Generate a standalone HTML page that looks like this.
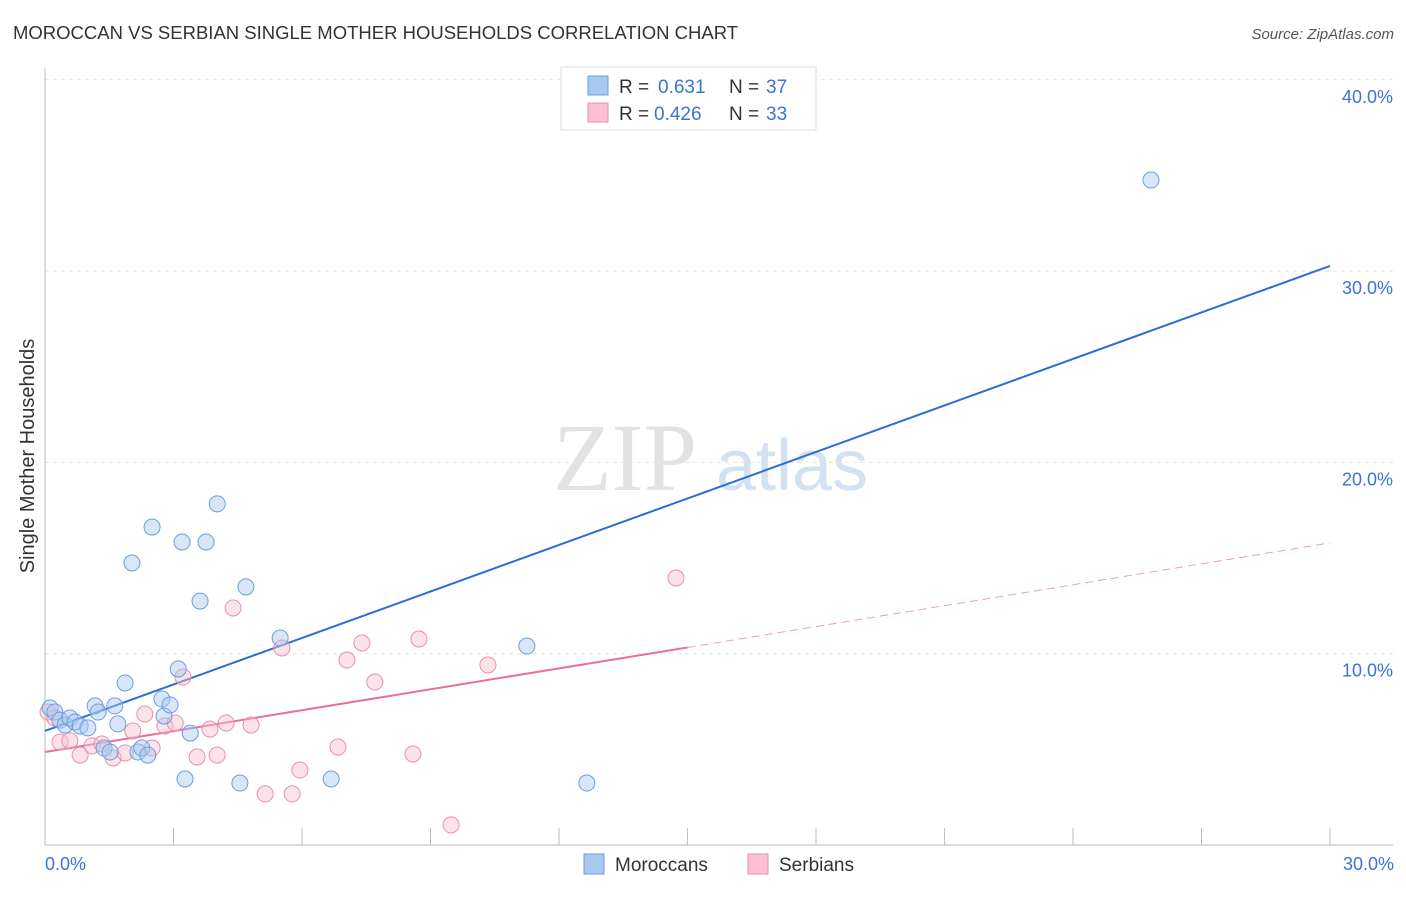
<!DOCTYPE html>
<html><head><meta charset="utf-8"><style>
body{margin:0;background:#fff;font-family:"Liberation Sans",sans-serif}
</style></head><body>
<svg id="chart" width="1406" height="892" xmlns="http://www.w3.org/2000/svg">
<text x="13" y="39" font-size="18.5" fill="#333">MOROCCAN VS SERBIAN SINGLE MOTHER HOUSEHOLDS CORRELATION CHART</text>
<text x="1394" y="39" font-size="15" fill="#555" font-style="italic" text-anchor="end">Source: ZipAtlas.com</text>
<g>
<text x="553" y="490" font-size="96" font-family="Liberation Serif,serif" fill="#e2e2e2">ZIP</text>
<text x="716" y="490" font-size="72" fill="#d3e1f3">atlas</text>
</g>
<g id="grid"></g>
<g id="axes"></g>
<g id="lines"></g>
<g id="pts"></g>
<text x="34" y="456" font-size="20" fill="#333" text-anchor="middle" transform="rotate(-90 34 456)">Single Mother Households</text>
<text x="45" y="870" font-size="18" fill="#3b73d6">0.0%</text>
<text x="1394" y="870" font-size="18" fill="#3b73d6" text-anchor="end">30.0%</text>
<g>
<rect x="561" y="67" width="255" height="63" fill="#fff" stroke="#ddd"/>
<rect x="588" y="76" width="20" height="19" fill="#a8c8f0" stroke="#6a9fe0"/>
<rect x="588" y="103" width="20" height="19" fill="#f8c0d0" stroke="#e890aa"/>
<text x="619" y="93" font-size="19" fill="#333">R =</text>
<text x="658" y="93" font-size="19" fill="#3b73d6">0.631</text>
<text x="729" y="93" font-size="19" fill="#333">N =</text>
<text x="766" y="93" font-size="19" fill="#3b73d6">37</text>
<text x="619" y="120" font-size="19" fill="#333">R =</text>
<text x="654" y="120" font-size="19" fill="#3b73d6">0.426</text>
<text x="729" y="120" font-size="19" fill="#333">N =</text>
<text x="766" y="120" font-size="19" fill="#3b73d6">33</text>
</g>
<g>
<rect x="584" y="854" width="20" height="20" fill="#a8c8f0" stroke="#6a9fe0"/>
<text x="615" y="871" font-size="19" fill="#333">Moroccans</text>
<rect x="748" y="854" width="20" height="20" fill="#f8c0d0" stroke="#e890aa"/>
<text x="779" y="871" font-size="19" fill="#333">Serbians</text>
</g>
</svg>
<script>
const yTicks=[10,20,30,40];
const yTickLabels=["10.0%","20.0%","30.0%","40.0%"];
const xTicks=[0,3,6,9,12,15,18,21,24,27,30];
const blueX=[0.12,0.23,0.35,0.47,0.58,0.70,0.82,1.00,1.17,1.24,1.38,1.52,1.63,1.70,1.87,2.03,2.17,2.26,2.40,2.50,2.73,2.78,2.92,3.11,3.20,3.27,3.39,3.62,3.76,4.02,4.55,4.69,5.49,6.68,11.25,12.65,25.82];
const blueY=[7.16,6.95,6.53,6.27,6.64,6.43,6.22,6.12,7.27,6.95,5.07,4.86,7.27,6.33,8.47,14.74,4.86,5.07,4.70,16.62,7.63,6.74,7.32,9.20,15.84,3.45,5.85,12.75,15.84,17.83,3.24,13.49,10.82,3.45,10.40,3.24,34.76];
const pinkX=[0.07,0.23,0.35,0.58,0.82,1.10,1.33,1.59,1.87,2.05,2.33,2.50,2.80,3.04,3.22,3.55,3.85,4.02,4.23,4.39,4.81,5.14,5.53,5.77,5.95,6.84,7.05,7.40,7.70,8.59,8.73,9.48,10.34,14.73];
const pinkY=[6.95,6.64,5.38,5.44,4.70,5.18,5.28,4.55,4.81,5.96,6.85,5.07,6.22,6.38,8.78,4.60,6.06,4.70,6.38,12.39,6.27,2.67,10.30,2.67,3.92,5.12,9.67,10.56,8.52,4.76,10.77,1.05,9.41,13.96];
const blueTrend=[5.96,30.27];
const pinkTrend=[4.86,15.79];
const pinkSolidEnd=15;
const X=v=>45+v*(1285/30), Y=v=>845-v*19.13;
const NS="http://www.w3.org/2000/svg";
function mk(t,a,p){const e=document.createElementNS(NS,t);for(const k in a)e.setAttribute(k,a[k]);document.getElementById(p).appendChild(e);return e;}
yTicks.forEach((t,i)=>{
 const g=mk('line',{x1:45,x2:1393,y1:Y(t),y2:Y(t),stroke:'#e4e4e4','stroke-dasharray':'4,4'},'grid');
 
 
 const l=mk('text',{x:1393,y:Y(t)+23,'font-size':18,fill:'#3b73d6','text-anchor':'end'},'axes');
 l.textContent=yTickLabels[i];
 
 
});
let ax=mk('line',{x1:45,x2:45,y1:68,y2:845,stroke:'#bbb'},'axes');


ax=mk('line',{x1:45,x2:1393,y1:845,y2:845,stroke:'#bbb'},'axes');


xTicks.forEach(t=>{
 const e=mk('line',{x1:X(t),x2:X(t),y1:828,y2:845,stroke:'#bbb'},'axes');
 
 
});
function pts(xs,ys,fill,stroke,name){
 xs.forEach((x,i)=>{
  const c=mk('circle',{cx:X(x),cy:Y(ys[i]),r:8,fill:fill,'fill-opacity':0.45,stroke:stroke,'stroke-width':1},'pts');
  
  
 });
}
pts(pinkX,pinkY,'#f8c0d0','#e890aa','serbian-point');
pts(blueX,blueY,'#a8c8f0','#6a9fe0','moroccan-point');
let l=mk('line',{x1:X(0),y1:Y(blueTrend[0]),x2:X(30),y2:Y(blueTrend[1]),stroke:'#2a6fd8','stroke-width':2},'lines');


const pAt=x=>pinkTrend[0]+(pinkTrend[1]-pinkTrend[0])*x/30;
l=mk('line',{x1:X(0),y1:Y(pinkTrend[0]),x2:X(pinkSolidEnd),y2:Y(pAt(pinkSolidEnd)),stroke:'#e8709a','stroke-width':2},'lines');


l=mk('line',{x1:X(pinkSolidEnd),y1:Y(pAt(pinkSolidEnd)),x2:X(30),y2:Y(pinkTrend[1]),stroke:'#e8a0b8','stroke-width':1,'stroke-dasharray':'8,5'},'lines');


</script>
</body></html>
